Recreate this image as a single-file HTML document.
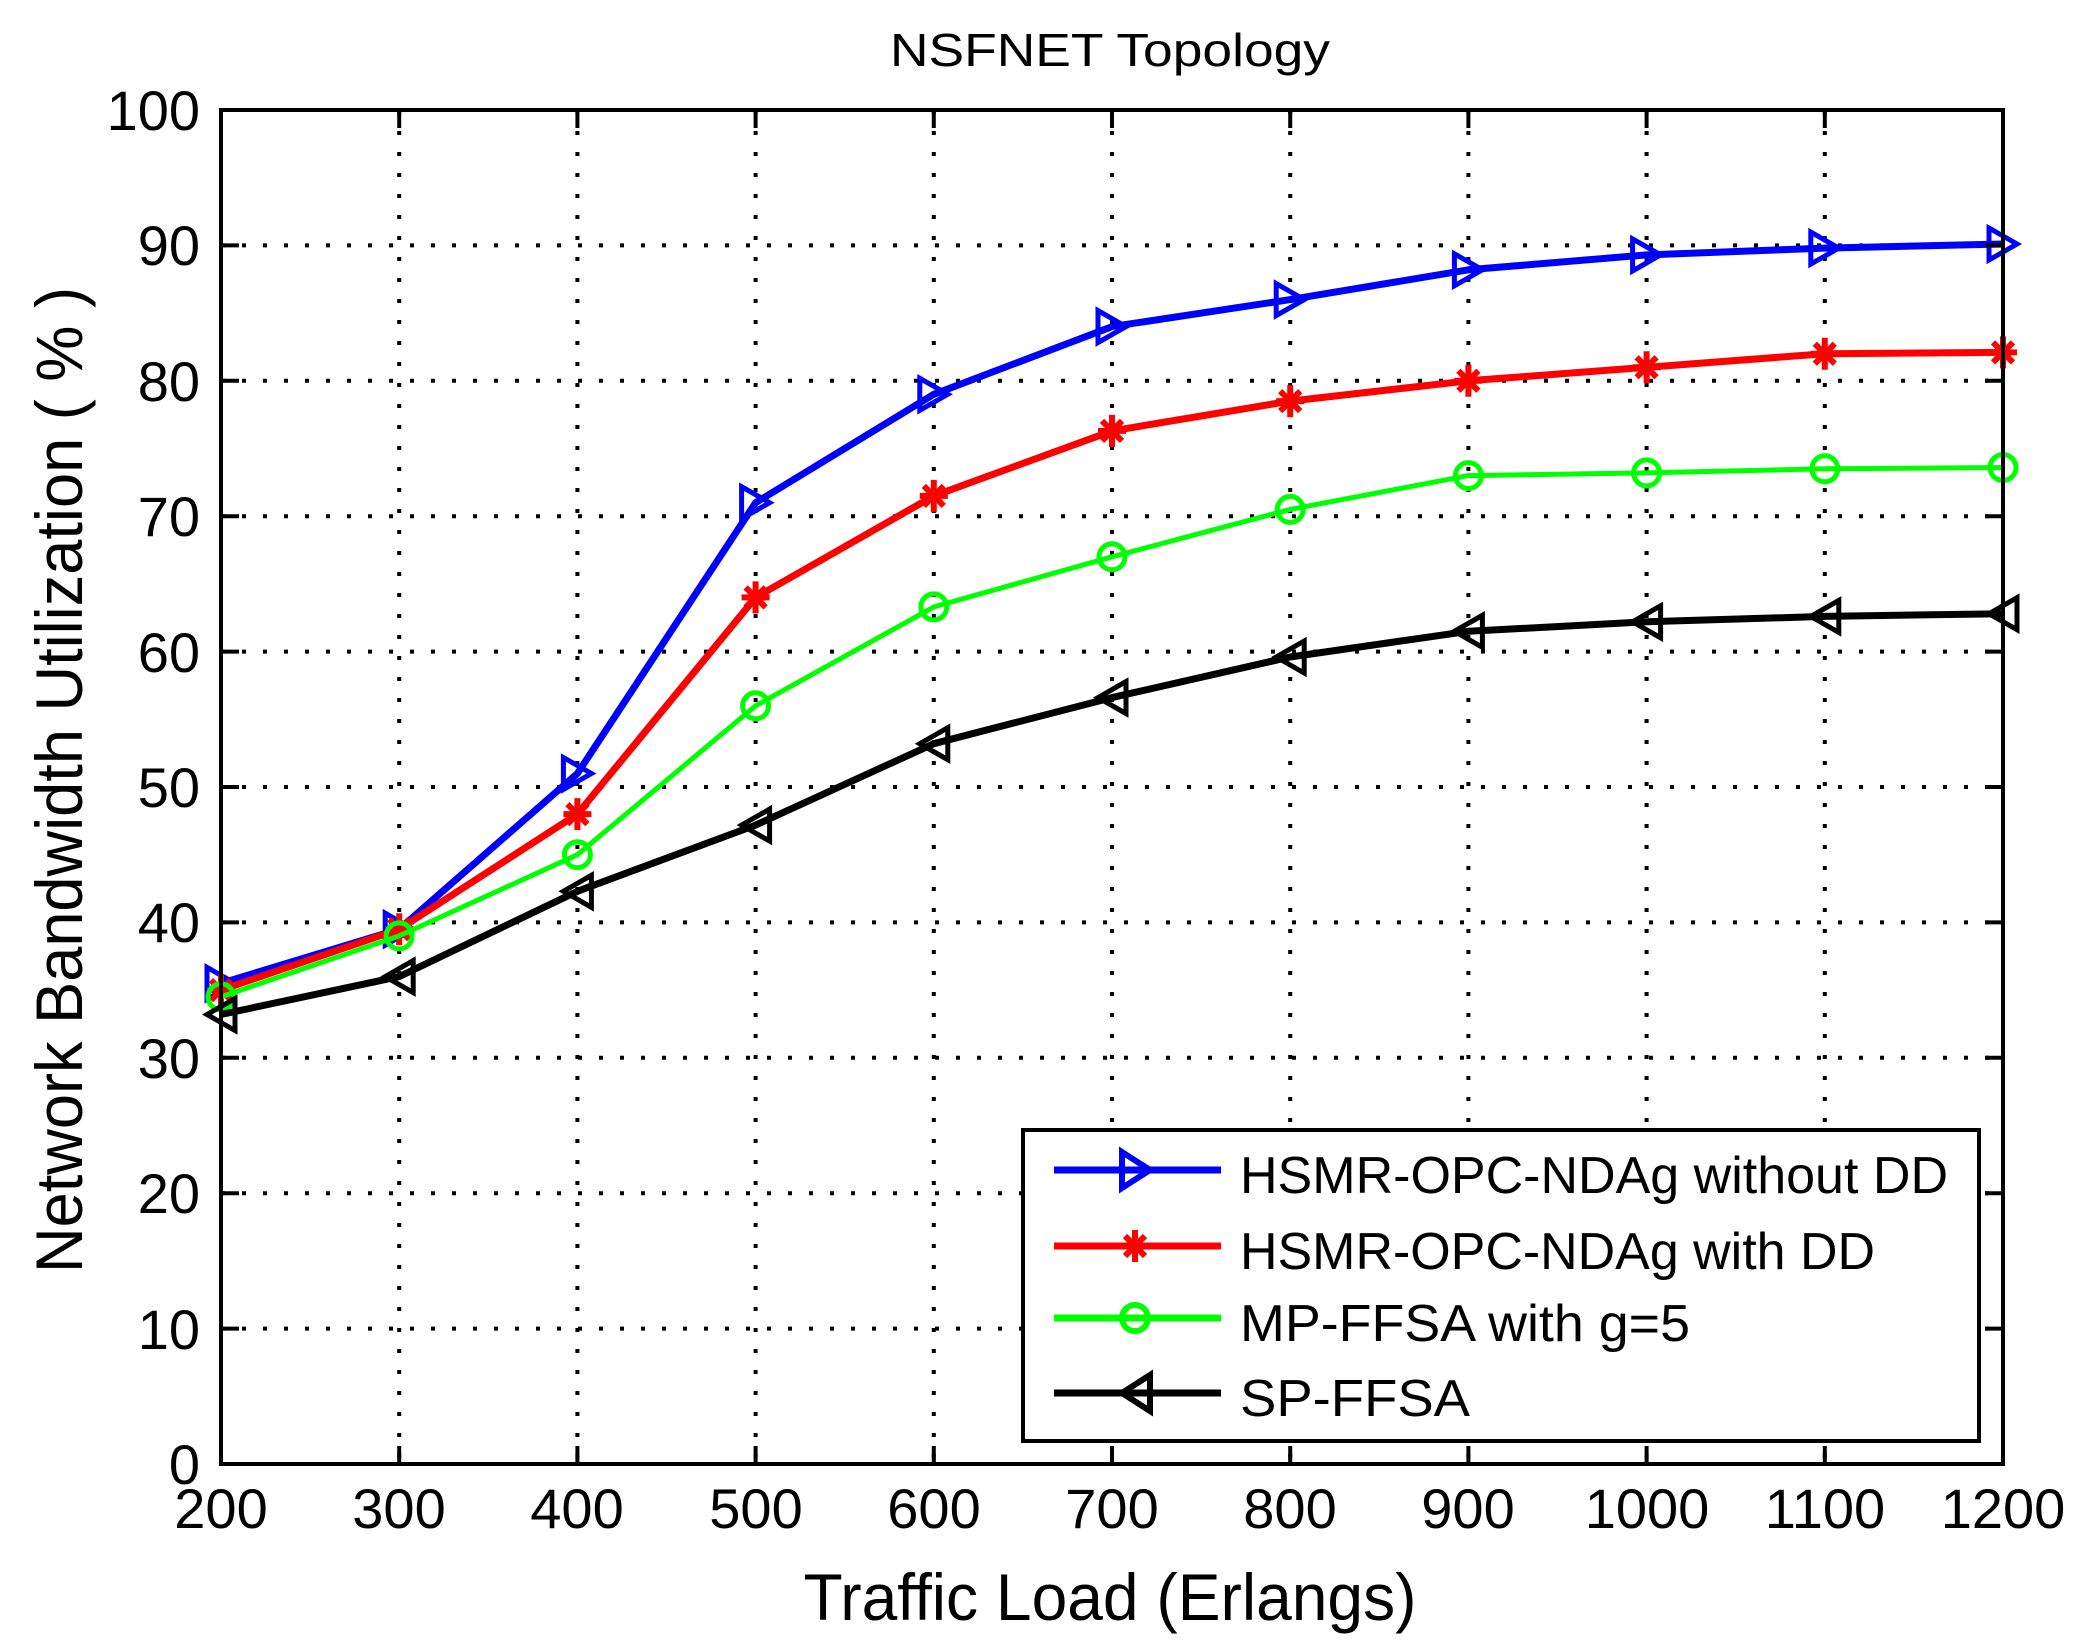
<!DOCTYPE html>
<html><head><meta charset="utf-8"><style>html,body{margin:0;padding:0;background:#fff}svg{display:block}</style></head>
<body>
<svg xmlns="http://www.w3.org/2000/svg" width="2079" height="1641" viewBox="0 0 2079 1641" font-family="Liberation Sans, sans-serif">
<defs>
<marker id="mb" markerUnits="userSpaceOnUse" markerWidth="40" markerHeight="40" refX="20" refY="20" orient="0" overflow="visible">
<polygon points="6,4 34,20 6,36" fill="none" stroke="#0000ff" stroke-width="5"/></marker>
<marker id="mr" markerUnits="userSpaceOnUse" markerWidth="40" markerHeight="40" refX="20" refY="20" orient="0" overflow="visible">
<g stroke="#ff0000" stroke-width="6"><line x1="20" y1="4" x2="20" y2="36"/><line x1="6" y1="20" x2="34" y2="20"/><line x1="10" y1="10" x2="30" y2="30"/><line x1="30" y1="10" x2="10" y2="30"/></g></marker>
<marker id="mg" markerUnits="userSpaceOnUse" markerWidth="40" markerHeight="40" refX="20" refY="20" orient="0" overflow="visible">
<circle cx="20" cy="20" r="13" fill="none" stroke="#00ff00" stroke-width="5"/></marker>
<marker id="mk" markerUnits="userSpaceOnUse" markerWidth="40" markerHeight="40" refX="20" refY="20" orient="0" overflow="visible">
<polygon points="34,4 6,20 34,36" fill="none" stroke="#000" stroke-width="5"/></marker>
</defs>
<rect width="2079" height="1641" fill="#fff"/>
<text x="1110" y="66" font-size="46" text-anchor="middle" textLength="440" lengthAdjust="spacingAndGlyphs">NSFNET Topology</text>
<g stroke="#000" stroke-width="4" stroke-dasharray="4 17">
<line x1="221" y1="1328.6" x2="2003" y2="1328.6"/><line x1="221" y1="1193.2" x2="2003" y2="1193.2"/><line x1="221" y1="1057.8" x2="2003" y2="1057.8"/><line x1="221" y1="922.4" x2="2003" y2="922.4"/><line x1="221" y1="787" x2="2003" y2="787"/><line x1="221" y1="651.6" x2="2003" y2="651.6"/><line x1="221" y1="516.2" x2="2003" y2="516.2"/><line x1="221" y1="380.8" x2="2003" y2="380.8"/><line x1="221" y1="245.4" x2="2003" y2="245.4"/>
<line x1="399.2" y1="110" x2="399.2" y2="1464"/><line x1="577.4" y1="110" x2="577.4" y2="1464"/><line x1="755.6" y1="110" x2="755.6" y2="1464"/><line x1="933.8" y1="110" x2="933.8" y2="1464"/><line x1="1112" y1="110" x2="1112" y2="1464"/><line x1="1290.2" y1="110" x2="1290.2" y2="1464"/><line x1="1468.4" y1="110" x2="1468.4" y2="1464"/><line x1="1646.6" y1="110" x2="1646.6" y2="1464"/><line x1="1824.8" y1="110" x2="1824.8" y2="1464"/>
</g>
<g font-size="56" text-anchor="end">
<text x="200" y="1484">0</text><text x="200" y="1349">10</text><text x="200" y="1213">20</text><text x="200" y="1078">30</text><text x="200" y="942">40</text><text x="200" y="807">50</text><text x="200" y="672">60</text><text x="200" y="536">70</text><text x="200" y="401">80</text><text x="200" y="265">90</text><text x="200" y="130">100</text>
</g>
<g font-size="56" text-anchor="middle">
<text x="221" y="1528">200</text><text x="399" y="1528">300</text><text x="577" y="1528">400</text><text x="756" y="1528">500</text><text x="934" y="1528">600</text><text x="1112" y="1528">700</text><text x="1290" y="1528">800</text><text x="1468" y="1528">900</text><text x="1647" y="1528">1000</text><text x="1825" y="1528">1100</text><text x="2003" y="1528">1200</text>
</g>
<text x="1110" y="1620" font-size="66" text-anchor="middle" textLength="613" lengthAdjust="spacingAndGlyphs">Traffic Load (Erlangs)</text>
<text transform="translate(82,780) rotate(-90)" font-size="66" text-anchor="middle" textLength="986" lengthAdjust="spacingAndGlyphs">Network Bandwidth Utilization ( % )</text>
<g fill="none" stroke-linejoin="round">
<polyline stroke="#0000ff" stroke-width="7" marker-start="url(#mb)" marker-mid="url(#mb)" marker-end="url(#mb)" points="221,983.3 399.2,929.2 577.4,773.5 755.6,502.7 933.8,394.3 1112,326.6 1290.2,299.6 1468.4,269.8 1646.6,254.9 1824.8,248.1 2003,244"/>
<polyline stroke="#ff0000" stroke-width="7" marker-start="url(#mr)" marker-mid="url(#mr)" marker-end="url(#mr)" points="221,990.1 399.2,929.2 577.4,814.1 755.6,597.4 933.8,495.9 1112,430.9 1290.2,401.1 1468.4,380.8 1646.6,367.3 1824.8,353.7 2003,352.4"/>
<polyline stroke="#00ff00" stroke-width="5" marker-start="url(#mg)" marker-mid="url(#mg)" marker-end="url(#mg)" points="221,996.9 399.2,935.9 577.4,854.7 755.6,705.8 933.8,606.9 1112,556.8 1290.2,509.4 1468.4,475.6 1646.6,472.9 1824.8,468.8 2003,467.5"/>
<polyline stroke="#000" stroke-width="7" marker-start="url(#mk)" marker-mid="url(#mk)" marker-end="url(#mk)" points="221,1014.5 399.2,976.6 577.4,891.3 755.6,825.1 933.8,743.7 1112,697.6 1290.2,657 1468.4,631.3 1646.6,621.8 1824.8,616.4 2003,613.7"/>
</g>
<g stroke="#000" stroke-width="4">
<line x1="399.2" y1="1464" x2="399.2" y2="1446"/><line x1="577.4" y1="1464" x2="577.4" y2="1446"/><line x1="755.6" y1="1464" x2="755.6" y2="1446"/><line x1="933.8" y1="1464" x2="933.8" y2="1446"/><line x1="1112" y1="1464" x2="1112" y2="1446"/><line x1="1290.2" y1="1464" x2="1290.2" y2="1446"/><line x1="1468.4" y1="1464" x2="1468.4" y2="1446"/><line x1="1646.6" y1="1464" x2="1646.6" y2="1446"/><line x1="1824.8" y1="1464" x2="1824.8" y2="1446"/>
<line x1="399.2" y1="110" x2="399.2" y2="128"/><line x1="577.4" y1="110" x2="577.4" y2="128"/><line x1="755.6" y1="110" x2="755.6" y2="128"/><line x1="933.8" y1="110" x2="933.8" y2="128"/><line x1="1112" y1="110" x2="1112" y2="128"/><line x1="1290.2" y1="110" x2="1290.2" y2="128"/><line x1="1468.4" y1="110" x2="1468.4" y2="128"/><line x1="1646.6" y1="110" x2="1646.6" y2="128"/><line x1="1824.8" y1="110" x2="1824.8" y2="128"/>
<line x1="221" y1="1328.6" x2="239" y2="1328.6"/><line x1="221" y1="1193.2" x2="239" y2="1193.2"/><line x1="221" y1="1057.8" x2="239" y2="1057.8"/><line x1="221" y1="922.4" x2="239" y2="922.4"/><line x1="221" y1="787" x2="239" y2="787"/><line x1="221" y1="651.6" x2="239" y2="651.6"/><line x1="221" y1="516.2" x2="239" y2="516.2"/><line x1="221" y1="380.8" x2="239" y2="380.8"/><line x1="221" y1="245.4" x2="239" y2="245.4"/>
<line x1="2003" y1="1328.6" x2="1985" y2="1328.6"/><line x1="2003" y1="1193.2" x2="1985" y2="1193.2"/><line x1="2003" y1="1057.8" x2="1985" y2="1057.8"/><line x1="2003" y1="922.4" x2="1985" y2="922.4"/><line x1="2003" y1="787" x2="1985" y2="787"/><line x1="2003" y1="651.6" x2="1985" y2="651.6"/><line x1="2003" y1="516.2" x2="1985" y2="516.2"/><line x1="2003" y1="380.8" x2="1985" y2="380.8"/><line x1="2003" y1="245.4" x2="1985" y2="245.4"/>
</g>
<rect x="221" y="110" width="1782" height="1354" fill="none" stroke="#000" stroke-width="4"/>
<rect x="1023" y="1130" width="956" height="311" fill="#fff" stroke="#000" stroke-width="4"/>
<g stroke-width="7">
<line x1="1054" y1="1170" x2="1221" y2="1170" stroke="#0000ff"/>
<line x1="1054" y1="1246" x2="1221" y2="1246" stroke="#ff0000"/>
<line x1="1054" y1="1318" x2="1221" y2="1318" stroke="#00ff00"/>
<line x1="1054" y1="1393" x2="1221" y2="1393" stroke="#000"/>
</g>
<g fill="none" stroke-width="6">
<polygon points="1122,1152 1150,1170 1122,1188" stroke="#0000ff"/>
<g stroke="#ff0000"><line x1="1135" y1="1230" x2="1135" y2="1262"/><line x1="1121" y1="1246" x2="1149" y2="1246"/><line x1="1125" y1="1236" x2="1145" y2="1256"/><line x1="1145" y1="1236" x2="1125" y2="1256"/></g>
<circle cx="1135" cy="1318" r="13" stroke="#00ff00"/>
<polygon points="1150,1375 1122,1393 1150,1411" stroke="#000"/>
</g>
<g font-size="52">
<text x="1240" y="1193" textLength="708" lengthAdjust="spacingAndGlyphs">HSMR-OPC-NDAg without DD</text>
<text x="1240" y="1269" textLength="635" lengthAdjust="spacingAndGlyphs">HSMR-OPC-NDAg with DD</text>
<text x="1240" y="1341" textLength="450" lengthAdjust="spacingAndGlyphs">MP-FFSA with g=5</text>
<text x="1240" y="1416" textLength="230" lengthAdjust="spacingAndGlyphs">SP-FFSA</text>
</g>
</svg>
</body></html>
